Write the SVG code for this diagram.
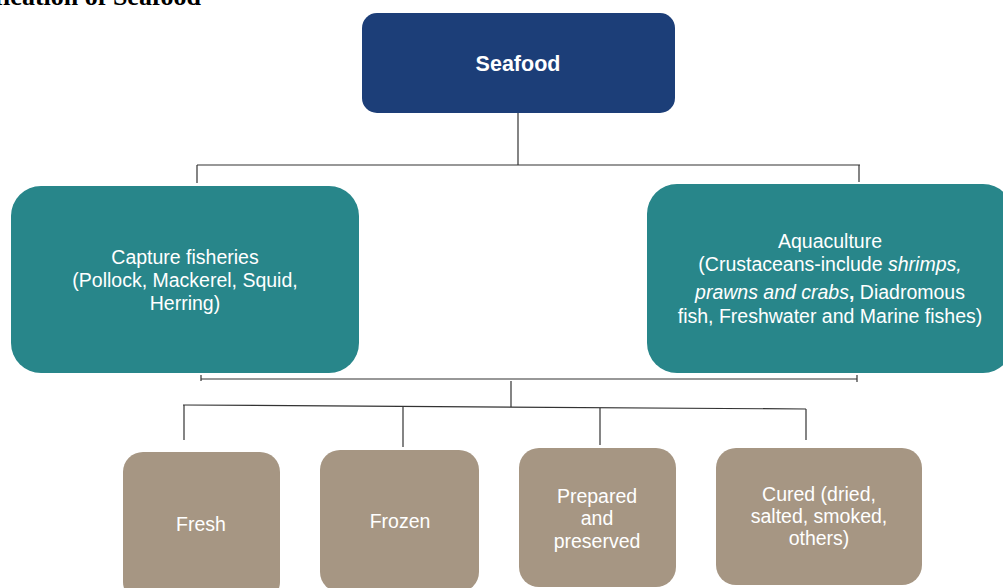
<svg xmlns="http://www.w3.org/2000/svg" width="1003" height="588" viewBox="0 0 1003 588">
<style>
.navy{fill:#1c3e78}
.teal{fill:#28868a}
.tan{fill:#a69683}
.t{font-family:"Liberation Sans",Arial,sans-serif;fill:#ffffff;text-anchor:middle}
.m{font-size:19.5px}
.conn line{stroke:#333333;stroke-width:1.2}
.title{font-family:"Liberation Serif","Times New Roman",serif;font-weight:bold;font-size:26px;fill:#000}
</style>
<rect width="1003" height="588" fill="#ffffff"/>
<text class="title" x="201" y="5" text-anchor="end">Classification of Seafood</text>
<g id="connectors" class="conn">
<line x1="518" y1="113" x2="518" y2="165"/>
<line x1="197" y1="165" x2="860" y2="165"/>
<line x1="197" y1="165" x2="197" y2="183"/>
<line x1="859" y1="165" x2="859" y2="182"/>
<line x1="201" y1="379" x2="857" y2="379"/>
<line x1="201" y1="375" x2="201" y2="381"/>
<line x1="857" y1="375" x2="857" y2="382"/>
<line x1="511" y1="381" x2="511" y2="407"/>
<line x1="183" y1="405" x2="806" y2="409"/>
<line x1="184" y1="405" x2="184" y2="440"/>
<line x1="403" y1="406" x2="403" y2="447"/>
<line x1="600" y1="408" x2="600" y2="445"/>
<line x1="806" y1="409" x2="806" y2="440"/>
</g>
<g id="seafood">
<rect class="navy" x="362" y="13" width="313" height="100" rx="15"/>
<text class="t" x="518" y="71" font-size="21.5" font-weight="bold">Seafood</text>
</g>
<g id="capture">
<rect class="teal" x="11" y="186" width="348" height="187" rx="30"/>
<text class="t m" x="185" y="264">Capture fisheries</text>
<text class="t m" x="185" y="287">(Pollock, Mackerel, Squid,</text>
<text class="t m" x="185" y="310">Herring)</text>
</g>
<g id="aquaculture">
<rect class="teal" x="647" y="184" width="366" height="189" rx="30"/>
<text class="t m" x="830" y="248">Aquaculture</text>
<text class="t m" x="830" y="271">(Crustaceans-include <tspan font-style="italic">shrimps,</tspan></text>
<text class="t m" x="830" y="299"><tspan font-style="italic">prawns and crabs</tspan><tspan font-weight="bold">,</tspan> Diadromous</text>
<text class="t m" x="830" y="323">fish, Freshwater and Marine fishes)</text>
</g>
<g id="fresh">
<rect class="tan" x="123" y="452" width="157" height="150" rx="20"/>
<text class="t m" x="201" y="531">Fresh</text>
</g>
<g id="frozen">
<rect class="tan" x="320" y="450" width="159" height="142" rx="20"/>
<text class="t m" x="400" y="528">Frozen</text>
</g>
<g id="prepared">
<rect class="tan" x="519" y="448" width="157" height="139" rx="20"/>
<text class="t m" x="597" y="503">Prepared</text>
<text class="t m" x="597" y="525">and</text>
<text class="t m" x="597" y="548">preserved</text>
</g>
<g id="cured">
<rect class="tan" x="716" y="448" width="206" height="137" rx="20"/>
<text class="t m" x="819" y="501">Cured (dried,</text>
<text class="t m" x="819" y="523">salted, smoked,</text>
<text class="t m" x="819" y="545">others)</text>
</g>
</svg>
